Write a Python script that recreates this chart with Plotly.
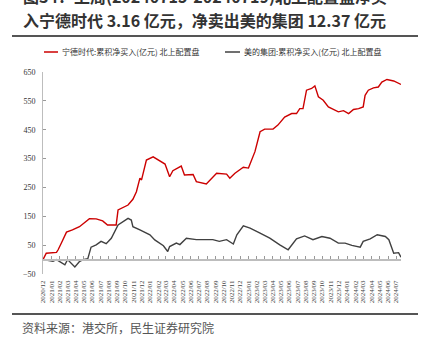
import plotly.graph_objects as go

# ---------------- data ----------------
catl_dates = ["2020-12-01", "2020-12-13", "2021-01-20", "2021-01-26", "2021-02-08", "2021-02-26",
              "2021-03-20", "2021-04-15", "2021-05-22", "2021-06-16", "2021-07-10", "2021-07-28",
              "2021-08-29", "2021-09-05", "2021-10-12", "2021-10-30", "2021-11-12", "2021-11-25",
              "2021-12-01", "2021-12-19", "2022-01-13", "2022-02-01", "2022-02-26", "2022-03-15",
              "2022-03-27", "2022-04-27", "2022-05-09", "2022-06-10", "2022-06-22", "2022-07-29",
              "2022-09-05", "2022-10-12", "2022-10-24", "2022-11-12", "2022-12-13", "2023-01-01",
              "2023-01-25", "2023-02-13", "2023-03-02", "2023-04-02", "2023-04-20", "2023-05-15",
              "2023-06-10", "2023-06-28", "2023-07-10", "2023-07-22", "2023-08-04", "2023-08-23",
              "2023-09-04", "2023-09-17", "2023-10-05", "2023-10-24", "2023-11-12", "2023-11-30",
              "2023-12-19", "2024-01-07", "2024-01-25", "2024-02-13", "2024-03-01", "2024-03-08",
              "2024-03-20", "2024-04-08", "2024-04-26", "2024-05-09", "2024-05-28", "2024-06-22",
              "2024-07-19"]
catl_values = [0, 22, 25, 34, 59, 95,
               103, 114, 142, 141, 134, 120,
               120, 172, 189, 209, 235, 282,
               276, 345, 356, 345, 331, 287,
               308, 324, 293, 295, 270, 262,
               299, 296, 282, 299, 320, 317,
               374, 443, 452, 452, 466, 494,
               506, 506, 523, 523, 587, 593,
               602, 564, 552, 529, 520, 512,
               516, 506, 520, 523, 529, 569,
               587, 595, 598, 615, 624, 619,
               607]

midea_dates = ["2020-12-01", "2020-12-26", "2021-01-07", "2021-01-20", "2021-02-20", "2021-03-02",
               "2021-03-14", "2021-03-29", "2021-04-15", "2021-04-28", "2021-05-16", "2021-05-28",
               "2021-06-16", "2021-07-04", "2021-07-23", "2021-08-11", "2021-09-05", "2021-09-24",
               "2021-10-12", "2021-10-24", "2021-10-30", "2021-11-25", "2022-01-01", "2022-01-19",
               "2022-02-20", "2022-03-08", "2022-03-15", "2022-04-09", "2022-04-22", "2022-05-16",
               "2022-06-22", "2022-07-29", "2022-08-22", "2022-09-15", "2022-10-12", "2022-11-06",
               "2022-11-19", "2022-12-13", "2023-01-07", "2023-02-13", "2023-03-21", "2023-04-27",
               "2023-05-28", "2023-06-28", "2023-07-28", "2023-08-28", "2023-09-30", "2023-10-30",
               "2023-11-30", "2023-12-25", "2024-01-19", "2024-02-19", "2024-03-01", "2024-03-27",
               "2024-04-22", "2024-05-22", "2024-06-04", "2024-06-22", "2024-07-10", "2024-07-19"]
midea_values = [0, -3, -6, 0, -18, 0,
                -10, -26, -7, 0, 3, 43,
                51, 63, 55, 74, 120, 132,
                143, 137, 114, 103, 86, 68,
                48, 28, 45, 57, 52, 74,
                69, 69, 69, 63, 69, 54,
                86, 117, 109, 92, 74, 51,
                34, 72, 82, 69, 80, 74,
                57, 57, 49, 43, 63, 72,
                86, 80, 69, 22, 24, 8]

catl_name = "宁德时代:累积净买入(亿元) 北上配置盘"
midea_name = "美的集团:累积净买入(亿元) 北上配置盘"
title_line1 = "图34：上周(20240715-20240719)北上配置盘净买"
title_line2 = "入宁德时代 3.16 亿元，净卖出美的集团 12.37 亿元"
source_text = "资料来源：港交所，民生证券研究院"

# ---------------- layout geometry ----------------
W, H = 422, 340
ML, MR, MT, MB = 43, 21, 72, 66
PW, PH = W - ML - MR, H - MT - MB
Y_MIN, Y_MAX = -50, 650


def px(x):
    return (x - ML) / PW


def py(y):
    return (H - MB - y) / PH


RED = "#cc0000"
GRAY = "#404040"
CJK = "Noto Sans CJK SC"
SERIF = "Liberation Serif"

fig = go.Figure()
fig.add_trace(go.Scatter(x=catl_dates, y=catl_values, mode="lines", name=catl_name,
                         line=dict(color=RED, width=1.4), showlegend=False))
fig.add_trace(go.Scatter(x=midea_dates, y=midea_values, mode="lines", name=midea_name,
                         line=dict(color=GRAY, width=1.4), showlegend=False))

x_range = ["2020-12-01", "2024-07-19"]
zero_pos = (0 - Y_MIN) / (Y_MAX - Y_MIN)

fig.update_layout(
    width=W, height=H,
    margin=dict(l=ML, r=MR, t=MT, b=MB, pad=0),
    paper_bgcolor="white", plot_bgcolor="white",
    xaxis=dict(type="date", range=x_range, tick0="2020-12-01", dtick="M1",
               tickformat="%Y/%m", tickangle=-90, showgrid=False, zeroline=False,
               showline=False, ticks="", ticklabelstandoff=4,
               tickfont=dict(family=SERIF, size=7, color="#444")),
    xaxis2=dict(type="date", range=x_range, tick0="2020-12-01", dtick="M1",
                overlaying="x", anchor="free", position=zero_pos, side="bottom",
                showline=True, linecolor="#bdbdbd", linewidth=2,
                ticks="inside", ticklen=3, tickcolor="#999", tickwidth=1,
                showticklabels=False, showgrid=False, zeroline=False),
    yaxis=dict(range=[Y_MIN, Y_MAX], tick0=50, dtick=100, showgrid=False, zeroline=False,
               showline=True, linecolor="#bdbdbd", linewidth=1,
               ticks="inside", ticklen=3, tickcolor="#999",
               ticklabelstandoff=5,
               tickfont=dict(family=SERIF, size=8, color="#333")),
    showlegend=False,
)
# dummy trace to activate xaxis2
fig.add_trace(go.Scatter(x=[x_range[0]], y=[None], xaxis="x2", showlegend=False,
                         hoverinfo="skip"))

shapes = [
    dict(type="line", xref="paper", yref="paper", x0=px(12), x1=px(418), y0=py(36), y1=py(36),
         line=dict(color="#555", width=2)),
    dict(type="line", xref="paper", yref="paper", x0=px(12), x1=px(418), y0=py(314), y1=py(314),
         line=dict(color="#555", width=2)),
    dict(type="line", xref="paper", yref="paper", x0=px(44), x1=px(58), y0=py(52), y1=py(52),
         line=dict(color=RED, width=1.5)),
    dict(type="line", xref="paper", yref="paper", x0=px(225), x1=px(240), y0=py(52), y1=py(52),
         line=dict(color=GRAY, width=1.5)),
]
fig.update_layout(shapes=shapes)

ann = [
    dict(text="<b>" + title_line1 + "</b>", x=px(20.5), y=py(-3.5), xref="paper", yref="paper",
         xanchor="left", yanchor="middle", showarrow=False,
         font=dict(family=CJK, size=16, color="#333")),
    dict(text="<b>" + title_line2 + "</b>", x=px(20.5), y=py(20), xref="paper", yref="paper",
         xanchor="left", yanchor="middle", showarrow=False,
         font=dict(family=CJK, size=16, color="#333")),
    dict(text=catl_name, x=px(60), y=py(52), xref="paper", yref="paper",
         xanchor="left", yanchor="middle", showarrow=False,
         font=dict(family=CJK, size=8, color="#333")),
    dict(text=midea_name, x=px(242), y=py(52), xref="paper", yref="paper",
         xanchor="left", yanchor="middle", showarrow=False,
         font=dict(family=CJK, size=8, color="#333")),
    dict(text=source_text, x=px(20), y=py(327), xref="paper", yref="paper",
         xanchor="left", yanchor="middle", showarrow=False,
         font=dict(family=CJK, size=12, color="#555")),
]
fig.update_layout(annotations=ann)

fig.write_html("out.html")
